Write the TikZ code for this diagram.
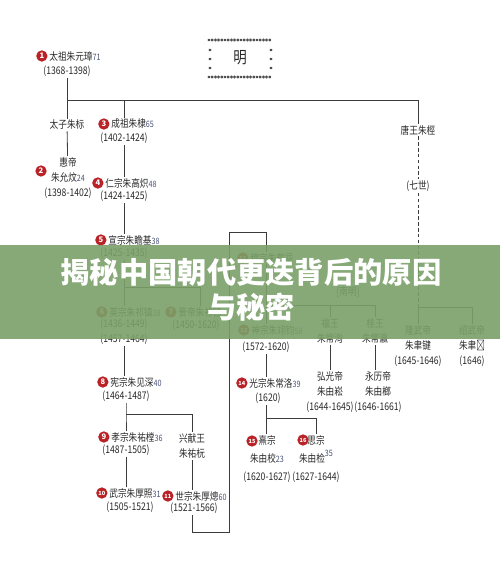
\documentclass[tikz,border=0pt]{standalone}
\usepackage{fontspec}
\setmainfont{Noto Sans CJK SC}[FakeStretch=0.82]
\newfontfamily\bannerfont{Noto Sans CJK SC}
\newfontfamily\tcfont{Noto Sans CJK TC}[FakeStretch=0.82]
\usetikzlibrary{positioning}

\definecolor{linecol}{RGB}{60,60,60}
\definecolor{txtcol}{RGB}{40,40,40}
\definecolor{agecol}{RGB}{70,80,120}
\definecolor{badgecol}{RGB}{185,35,40}
\definecolor{bannercol}{RGB}{122,160,104}
\newcommand{\age}[1]{{\fontsize{7.5}{7.5}\selectfont\color{agecol}#1}}
\newcommand{\astk}[2]{\draw[linecol,line width=0.4pt] (#1,#2-1.6) -- (#1,#2+1.6) (#1-1.3,#2-0.9) -- (#1+1.3,#2+0.9) (#1-1.3,#2+0.9) -- (#1+1.3,#2-0.9);}

\begin{document}
\begin{tikzpicture}[x=0.03cm, y=-0.03cm,
    every node/.style={align=center, text=txtcol, inner sep=1pt, font=\fontsize{9}{13}\selectfont},
    nm/.style={anchor=west},
    badge/.style={circle, fill=badgecol, text=white, inner sep=0pt, minimum size=0.34cm, font=\bannerfont\fontsize{6.5}{6.5}\selectfont\bfseries},
    bsmall/.style={badge, font=\bannerfont\fontsize{4.8}{4.8}\selectfont\bfseries},
    tree/.style={draw=linecol, line width=0.7pt},
    branch/.style={tree, dash pattern=on 3pt off 2pt}]
  \useasboundingbox (0,0) rectangle (500,586);

  % dynasty title
  \node[minimum width=1.9cm, minimum height=1.1cm, font=\fontsize{14}{14}\selectfont] (ming) at (240,58) {明};
  \foreach \x in {209,212.2,...,272} {\astk{\x}{40} \astk{\x}{77}}
  \foreach \y in {50,59,68} {\astk{210}{\y} \astk{271}{\y}}

  % Hongwu and Jianwen
  \node[nm] (n1) at (48,56) {太祖朱元璋\age{71}};
  \node[badge, left=0.2pt of n1] (b1) {1};
  \node (y1) at (67,71) {(1368-1398)};
  \node (taizi) at (67,125) {太子朱标};
  \node (n2) at (68,178) {惠帝\\朱允炆\age{24}\\(1398-1402)};
  \node[badge] (b2) at (41,171) {2};
  \coordinate (j1) at (67,100);
  \draw[tree] (y1) -- (taizi);
  \draw[tree] (taizi) -- (n2);

  % Yongle line
  \node[nm] (n3) at (110,124) {成祖朱棣\age{65}};
  \node[badge, left=0.2pt of n3] (b3) {3};
  \node (y3) at (124,138) {(1402-1424)};
  \draw[tree] (j1 -| y3) -- (y3 |- n3.north);
  \node[nm] (n4) at (104,183) {仁宗朱高炽\age{48}};
  \node[badge, left=0.2pt of n4] (b4) {4};
  \node (y4) at (124,196) {(1424-1425)};
  \draw[tree] (y3) -- (y3 |- n4.north);
  \node[nm] (n5) at (107,240) {宣宗朱瞻基\age{38}};
  \node[badge, left=0.2pt of n5] (b5) {5};
  \node (y5) at (124,253) {(1425-1435)};
  \draw[tree] (y4) -- (y4 |- n5.north);
  \node[nm] (n6) at (108,312) {英宗朱祁镇\age{38}};
  \node[badge, left=0.2pt of n6] (b6) {6};
  \node (y6) at (124,332) {(1436-1449)\\(1457-1464)};
  \node[nm] (n7) at (177,312) {景帝朱祁钰};
  \node[badge, left=0.2pt of n7] (b7) {7};
  \node (y7) at (196,325) {(1450-1620)};
  \coordinate (j5) at (124,287);
  \draw[tree] (y5) -- (j5) -- (j5 -| n7) -- (n7);
  \draw[tree] (j5) -- (j5 |- n6.north);
  \node[nm] (n8) at (109,382) {宪宗朱见深\age{40}};
  \node[badge, left=0.2pt of n8] (b8) {8};
  \node (y8) at (126,396) {(1464-1487)};
  \draw[tree] (y6) -- (y6 |- n8.north);
  \node[nm] (n9) at (110,437) {孝宗朱祐樘\age{36}};
  \node[badge, left=0.2pt of n9] (b9) {9};
  \node (y9) at (126,450) {(1487-1505)};
  \node (xing) at (192,446) {兴献王\\朱祐杬};
  \coordinate (j8) at (126,414);
  \draw[tree] (y8) -- (j8) -- (j8 |- n9.north);
  \draw[tree] (j8) -| (xing);
  \node[nm] (n10) at (108,493) {武宗朱厚照\age{31}};
  \node[bsmall, left=0.2pt of n10] (b10) {10};
  \node (y10) at (130,507) {(1505-1521)};
  \draw[tree] (y9) -- (y9 |- n10.north);
  \node[nm] (n11) at (174,496) {世宗朱厚熜\age{60}};
  \node[bsmall, left=0.2pt of n11] (b11) {11};
  \node (y11) at (194,508) {(1521-1566)};
  \draw[tree] (xing) -- (xing |- n11.north);

  % Jiajing to Chongzhen
  \node[nm] (n12) at (249,258) {穆宗朱载坖};
  \node[bsmall, left=0.2pt of n12] (b12) {12};
  \coordinate (k1) at (192,532);
  \coordinate (k2) at (229,532);
  \coordinate (k3) at (229,232);
  \coordinate (k4) at (266,232);
  \draw[tree] (xing |- y11.south) -- (k1) -- (k2) -- (k3) -- (k4) -- (k4 |- n12.north);
  \node[nm] (n13) at (250,330) {神宗朱翊钧\age{58}};
  \node[bsmall, left=0.2pt of n13] (b13) {13};
  \node (y13) at (266,347) {(1572-1620)};
  \draw[tree] (k4 |- n12.south) -- (k4 |- n13.north);
  \node (nanming) at (348,292) {[南明]};
  \node (fu) at (330,331) {福王\\朱常洵};
  \node (gui) at (375,331) {桂王\\朱常瀛};
  \coordinate (j12) at (266,305);
  \draw[tree] (j12) -| (gui);
  \draw[tree] (j12 -| fu) -- (fu);
  \node (hong) at (330,392) {弘光帝\\朱由崧\\(1644-1645)};
  \node (yong) at (378,392) {永历帝\\朱由榔\\(1646-1661)};
  \draw[tree] (fu) -- (hong);
  \draw[tree] (gui) -- (gui |- yong.north);
  \node[nm] (n14) at (248,383) {光宗朱常洛\age{39}};
  \node[bsmall, left=0.2pt of n14] (b14) {14};
  \node (y14) at (268,398) {(1620)};
  \draw[tree] (y13) -- (y13 |- n14.north);
  \node[font=\fontsize{9}{15.5}\selectfont] (n15) at (267,459) {熹宗\\朱由校\age{23}\\(1620-1627)};
  \node[bsmall] (b15) at (252,441) {15};
  \node[font=\fontsize{9}{15.5}\selectfont] (n16) at (316,459) {思宗\\朱由检\raisebox{1ex}{\age{35}}\\(1627-1644)};
  \node[bsmall] (b16) at (303,440) {16};
  \coordinate (j14) at (266,418);
  \draw[tree] (y13 |- y14.south) -- (j14) -| (n16);
  \draw[tree] (j14) -- (j14 |- n15.north);

  % Tang prince line
  \node (tang) at (418,130) {唐王朱桱};
  \draw[tree] (j1) -| (tang);
  \node (qishi) at (418,186) {(七世)};
  \draw[branch] (tang) -- (qishi);
  \coordinate (j15) at (418,307);
  \draw[branch] (qishi) -- (j15);
  \node (longwu) at (418,346) {隆武帝\\朱聿键\\(1645-1646)};
  \node (shaowu) at (472,346) {绍武帝\\朱聿{\tcfont 𨮁}\\(1646)};
  \draw[tree] (j15) -- (longwu);
  \draw[tree] (j15) -| (shaowu);

  % banner
  \fill[bannercol, opacity=0.9] (0,245) rectangle (500,339);
  \node[text=white, font=\bannerfont\fontsize{25}{30}\selectfont\bfseries] (banner) at (251,290) {揭秘中国朝代更迭背后的原因\\与秘密};
\end{tikzpicture}
\end{document}
